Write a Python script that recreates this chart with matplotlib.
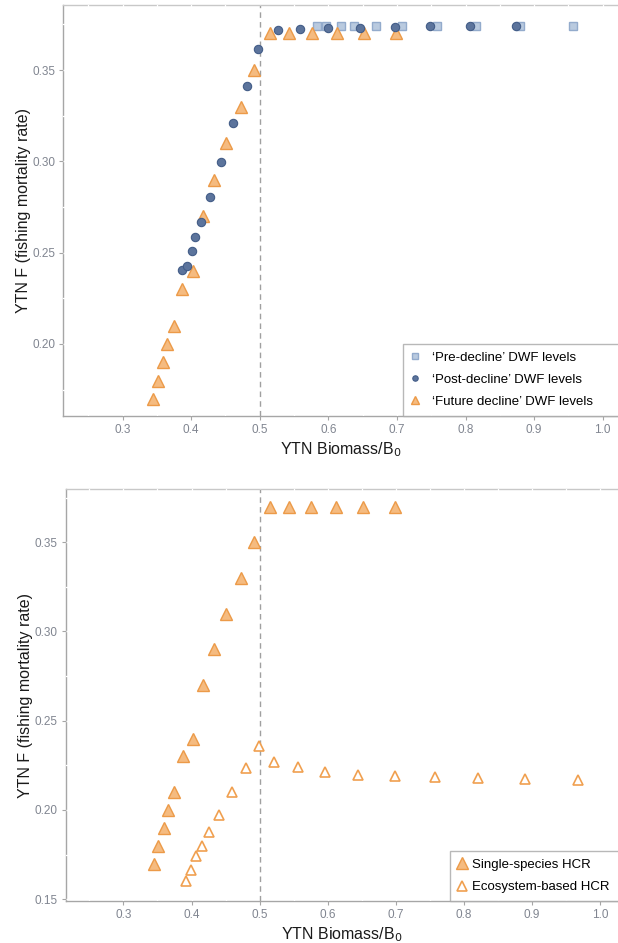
import numpy as np
import matplotlib
matplotlib.use("Agg")
import matplotlib.pyplot as plt
from matplotlib.ticker import MultipleLocator

plt.rcParams["font.family"] = ["Liberation Sans", "DejaVu Sans"]

# panel 1: DWF levels
pre_x = [0.584, 0.596, 0.618, 0.637, 0.669, 0.708, 0.759, 0.815, 0.880, 0.957]
pre_y = [0.3743] * 10
post_x = [0.387, 0.394, 0.401, 0.405, 0.414, 0.427, 0.444, 0.461, 0.481, 0.498,
          0.526, 0.558, 0.600, 0.646, 0.697, 0.748, 0.806, 0.874]
post_y = [0.2403, 0.2425, 0.2510, 0.2584, 0.2669, 0.2805, 0.2995, 0.3211, 0.3412,
          0.3613, 0.3717, 0.3723, 0.3732, 0.3732, 0.3735, 0.3743, 0.3743, 0.3743]
fut_x = [0.345, 0.351, 0.359, 0.365, 0.375, 0.387, 0.402, 0.417, 0.433, 0.451,
         0.473, 0.492, 0.515, 0.543, 0.576, 0.612, 0.652, 0.698]
fut_y = [0.17, 0.18, 0.19, 0.20, 0.21, 0.23, 0.24, 0.27, 0.29, 0.31,
         0.33, 0.35, 0.37, 0.37, 0.37, 0.37, 0.37, 0.37]

# panel 2: HCRs
ss_x = fut_x
ss_y = fut_y
eco_x = [0.392, 0.399, 0.407, 0.415, 0.426, 0.441, 0.459, 0.480, 0.499, 0.521,
         0.557, 0.596, 0.644, 0.698, 0.757, 0.820, 0.890, 0.968]
eco_y = [0.160, 0.1665, 0.1742, 0.1799, 0.1876, 0.1972, 0.2103, 0.2233, 0.2356,
         0.2271, 0.2239, 0.2213, 0.2197, 0.2190, 0.2185, 0.2180, 0.2175, 0.2168]

SQ_FC, SQ_EC = "#b9cadf", "#93abcc"
CI_FC, CI_EC = "#5c749c", "#435d88"
TR_FC, TR_EC = "#f5bb80", "#ec9a48"
GREY = "#a6a6a6"

fig = plt.figure(figsize=(6.18, 9.43), dpi=100)
ax1 = fig.add_axes([0.1025, 0.5589, 0.8975, 0.4358])
ax2 = fig.add_axes([0.1063, 0.0445, 0.8937, 0.4369])


def style(ax, xlim, ylim, yticks):
    ax.set_xlim(*xlim)
    ax.set_ylim(*ylim)
    ax.set_xticks(np.arange(0.3, 1.01, 0.1))
    ax.set_xticklabels([f"{v:.1f}" for v in np.arange(0.3, 1.01, 0.1)])
    ax.set_yticks(yticks)
    ax.set_yticklabels([f"{v:.2f}" for v in yticks])
    ax.xaxis.set_minor_locator(MultipleLocator(0.05))
    ax.yaxis.set_minor_locator(MultipleLocator(0.025))
    ax.tick_params(which="major", length=3, width=0.8, color=GREY,
                   labelcolor="#808590", labelsize=8.5, pad=3)
    ax.tick_params(which="minor", length=0)
    ax.spines["right"].set_visible(False)
    for s in ["left", "bottom", "top"]:
        ax.spines[s].set_color(GREY)
        ax.spines[s].set_linewidth(1.0)
    ax.spines["top"].set_color("#c8c8c8")
    ax.set_axisbelow(False)
    ax.grid(which="both", color="white", lw=0.9)
    ax.axvline(0.5, color="#a0a0a0", ls=(0, (4, 3)), lw=1.0, zorder=3)
    ax.set_xlabel("YTN Biomass/B$_0$", fontsize=11.5, color="#1a1a1a", labelpad=3)
    ax.set_ylabel("YTN F (fishing mortality rate)", fontsize=11.5, color="#1a1a1a",
                  labelpad=1)


def legend(ax, x0, h, hl, tp):
    leg = ax.legend(loc="lower left", bbox_to_anchor=(x0, 0.0, 0.5, h),
                    mode="expand", fontsize=9.5, frameon=True, fancybox=False,
                    handlelength=hl, handletextpad=tp, borderpad=0.6,
                    labelspacing=0.75, borderaxespad=0)
    leg.get_frame().set_edgecolor(GREY)
    leg.get_frame().set_linewidth(1.0)
    return leg


style(ax1, (0.2137, 1.0223), (0.1606, 0.3856), [0.20, 0.25, 0.30, 0.35])
ax1.plot(pre_x, pre_y, "s", ms=5.8, mfc=SQ_FC, mec=SQ_EC, mew=1.0, ls="none",
         zorder=4, label="\u2018Pre-decline\u2019 DWF levels")
ax1.plot(post_x, post_y, "o", ms=6.0, mfc=CI_FC, mec=CI_EC, mew=0.8, ls="none",
         zorder=5, label="\u2018Post-decline\u2019 DWF levels")
ax1.plot(fut_x, fut_y, "^", ms=9, mfc=TR_FC, mec=TR_EC, mew=1.0, ls="none",
         zorder=4, label="\u2018Future decline\u2019 DWF levels")
leg1 = legend(ax1, 0.6124, 0.17, 0.6, 1.0)
for hd in leg1.legend_handles:
    hd.set_markersize(hd.get_markersize() * 0.65)

style(ax2, (0.2153, 1.026), (0.149, 0.3798), [0.15, 0.20, 0.25, 0.30, 0.35])
ax2.plot(ss_x, ss_y, "^", ms=8.5, mfc=TR_FC, mec=TR_EC, mew=1.0, ls="none",
         zorder=4, label="Single-species HCR")
ax2.plot(eco_x, eco_y, "^", ms=7.8, mfc="white", mec="#f0a050", mew=1.2, ls="none",
         zorder=4, label="Ecosystem-based HCR")
legend(ax2, 0.6958, 0.12, 0.6, 0.5)

fig.savefig("out.png", dpi=100)
